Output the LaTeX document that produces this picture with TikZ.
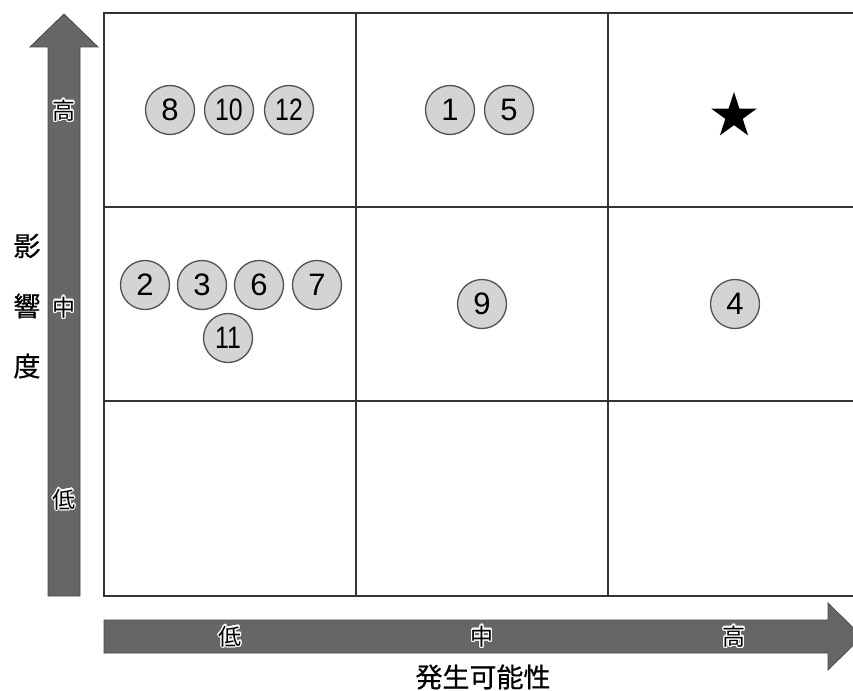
\documentclass[tikz,border=0pt]{standalone}
\usepackage{fontspec}
\setmainfont{Liberation Sans}
\newfontfamily\jp{Noto Sans CJK JP}
\newfontfamily\jpt{Noto Sans CJK JP}[FakeBold=0.6]
\usepackage{contour}
\contourlength{1.3pt}
\usetikzlibrary{shapes.geometric}
\begin{document}
\begin{tikzpicture}[x=1pt,y=-1pt,
  risk/.style={circle,draw=black!68,line width=1.3pt,fill=black!17,minimum size=49pt,inner sep=0pt,font=\fontsize{31}{31}\selectfont},
  gridline/.style={draw=black!80,line width=1.5pt},
  axisarrow/.style={fill=black!60,draw=black!72,line width=0.8pt},
  axlabel/.style={font=\jp\fontsize{23}{23}\selectfont,inner sep=0pt},
  axtitle/.style={font=\jpt\fontsize{27}{27}\selectfont,inner sep=0pt}]
\useasboundingbox (0,0) rectangle (853,690);
\clip (0,0) rectangle (853,690);
% grid
\draw[gridline] (104,13) rectangle (870,596);
\draw[gridline] (356,13) -- (356,596);
\draw[gridline] (608,13) -- (608,596);
\draw[gridline] (104,207) -- (870,207);
\draw[gridline] (104,401) -- (870,401);
% axis arrows
\path[axisarrow] (48,596) -- (48,47) -- (30,47) -- (64,14) -- (98,47) -- (80,47) -- (80,596) -- cycle;
\path[axisarrow] (104,620) -- (828,620) -- (828,603) -- (862,636.5) -- (828,670) -- (828,653) -- (104,653) -- cycle;
% axis labels
\node[axlabel] (vh) at (64,111) {\contour{white}{高}};
\node[axlabel] (vm) at (64,308) {\contour{white}{中}};
\node[axlabel] (vl) at (64,500) {\contour{white}{低}};
\node[axlabel] (hl) at (230,637) {\contour{white}{低}};
\node[axlabel] (hm) at (482,637) {\contour{white}{中}};
\node[axlabel] (hh) at (734,637) {\contour{white}{高}};
\node[axtitle] (t1) at (27,246) {影};
\node[axtitle] (t2) at (27,306) {響};
\node[axtitle] (t3) at (27,366) {度};
\node[axtitle] (tx) at (483,677) {発生可能性};
% risks
\node[risk] (r8) at (170,110) {8};
\node[risk] (r10) at (229,110) {\scalebox{0.8}[1]{10}};
\node[risk] (r12) at (289,110) {\scalebox{0.8}[1]{12}};
\node[risk] (r1) at (450,110) {1};
\node[risk] (r5) at (509,110) {5};
\node[risk] (r2) at (145,285) {2};
\node[risk] (r3) at (202,285) {3};
\node[risk] (r6) at (259,285) {6};
\node[risk] (r7) at (317,285) {7};
\node[risk] (r11) at (228,338) {\scalebox{0.8}[1]{11}};
\node[risk] (r9) at (482,304) {9};
\node[risk] (r4) at (735,304) {4};
\node[star,star points=5,star point ratio=2.618,fill=black,minimum size=48pt,inner sep=0pt] (star) at (734,116) {};
\end{tikzpicture}
\end{document}
